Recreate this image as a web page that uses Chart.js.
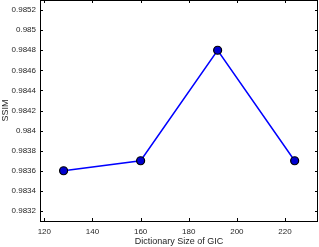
<!DOCTYPE html>
<html>
<head>
<meta charset="utf-8">
<script src="https://cdn.jsdelivr.net/npm/chart.js@4"></script>
<style>
    html, body { margin: 0; padding: 0; background: #fff; }
</style>
</head>
<body>
<canvas id="chart" width="319" height="247"></canvas>
<script>
const dictSizes = [128, 160, 192, 224];
const ssimValues = [0.9836, 0.9837, 0.9848, 0.9837];
const xTicks = [120, 140, 160, 180, 200, 220];
const yTicks = [0.9832, 0.9834, 0.9836, 0.9838, 0.984, 0.9842, 0.9844, 0.9846, 0.9848, 0.985, 0.9852];

// box around the plot with inward ticks on all four sides
const boxPlugin = {
    id: 'box',
    afterDraw(chart) {
        const ctx = chart.ctx;
        const a = chart.chartArea;
        const xs = chart.scales.x, ys = chart.scales.y;
        ctx.save();
        ctx.strokeStyle = '#000';
        ctx.lineWidth = 1;
        ctx.beginPath();
        xTicks.forEach(v => {
            const px = Math.round(xs.getPixelForValue(v)) + 0.5;
            ctx.moveTo(px, a.bottom); ctx.lineTo(px, a.bottom - 3);
            ctx.moveTo(px, a.top); ctx.lineTo(px, a.top + 3);
        });
        yTicks.forEach(v => {
            const py = Math.round(ys.getPixelForValue(v)) + 0.5;
            ctx.moveTo(a.left, py); ctx.lineTo(a.left + 3, py);
            ctx.moveTo(a.right, py); ctx.lineTo(a.right - 3, py);
        });
        ctx.stroke();
        ctx.strokeRect(a.left + 0.5, a.top + 0.5, a.right - a.left - 1, a.bottom - a.top);
        ctx.restore();
    }
};

new Chart(document.getElementById('chart'), {
    type: 'line',
    data: {
        datasets: [{
            data: dictSizes.map((x, i) => ({x: x, y: ssimValues[i]})),
            borderColor: '#0000ff',
            borderWidth: 1.5,
            backgroundColor: '#0000d0',
            pointBorderColor: '#000',
            pointBorderWidth: 1.2,
            pointRadius: 4,
            tension: 0,
            fill: false,
            clip: false,
        }]
    },
    options: {
        responsive: false,
        animation: false,
        devicePixelRatio: 1,
        layout: { autoPadding: false, padding: { top: 0, right: 1 } },
        plugins: { legend: { display: false }, tooltip: { enabled: false } },
        scales: {
            x: {
                type: 'linear',
                min: 118.2,
                max: 233.7,
                afterBuildTicks: s => { s.ticks = xTicks.map(v => ({value: v})); },
                afterFit: s => { s.height = 26; s.paddingLeft = 0; s.paddingRight = 0; },
                grid: { display: false, drawTicks: false },
                border: { display: false },
                ticks: { autoSkip: false, font: { family: 'Liberation Sans', size: 8 }, color: '#262626', padding: 6, maxRotation: 0 },
                title: { display: true, text: 'Dictionary Size of GIC', font: { family: 'Liberation Sans', size: 9 }, color: '#262626', padding: { top: 0, bottom: 0 } }
            },
            y: {
                min: 0.98310,
                max: 0.98530,
                afterBuildTicks: s => { s.ticks = yTicks.map(v => ({value: v})); },
                afterFit: s => { s.width = 40; s.paddingTop = 0; s.paddingBottom = 0; },
                grid: { display: false, drawTicks: false },
                border: { display: false },
                ticks: {
                    autoSkip: false,
                    font: { family: 'Liberation Sans', size: 8 }, color: '#262626', padding: 4,
                    callback: v => String(Number(v.toFixed(4)))
                },
                title: { display: true, text: 'SSIM', font: { family: 'Liberation Sans', size: 9 }, color: '#262626', padding: { top: 0, bottom: 0 } }
            }
        }
    },
    plugins: [boxPlugin]
});
</script>
</body>
</html>
